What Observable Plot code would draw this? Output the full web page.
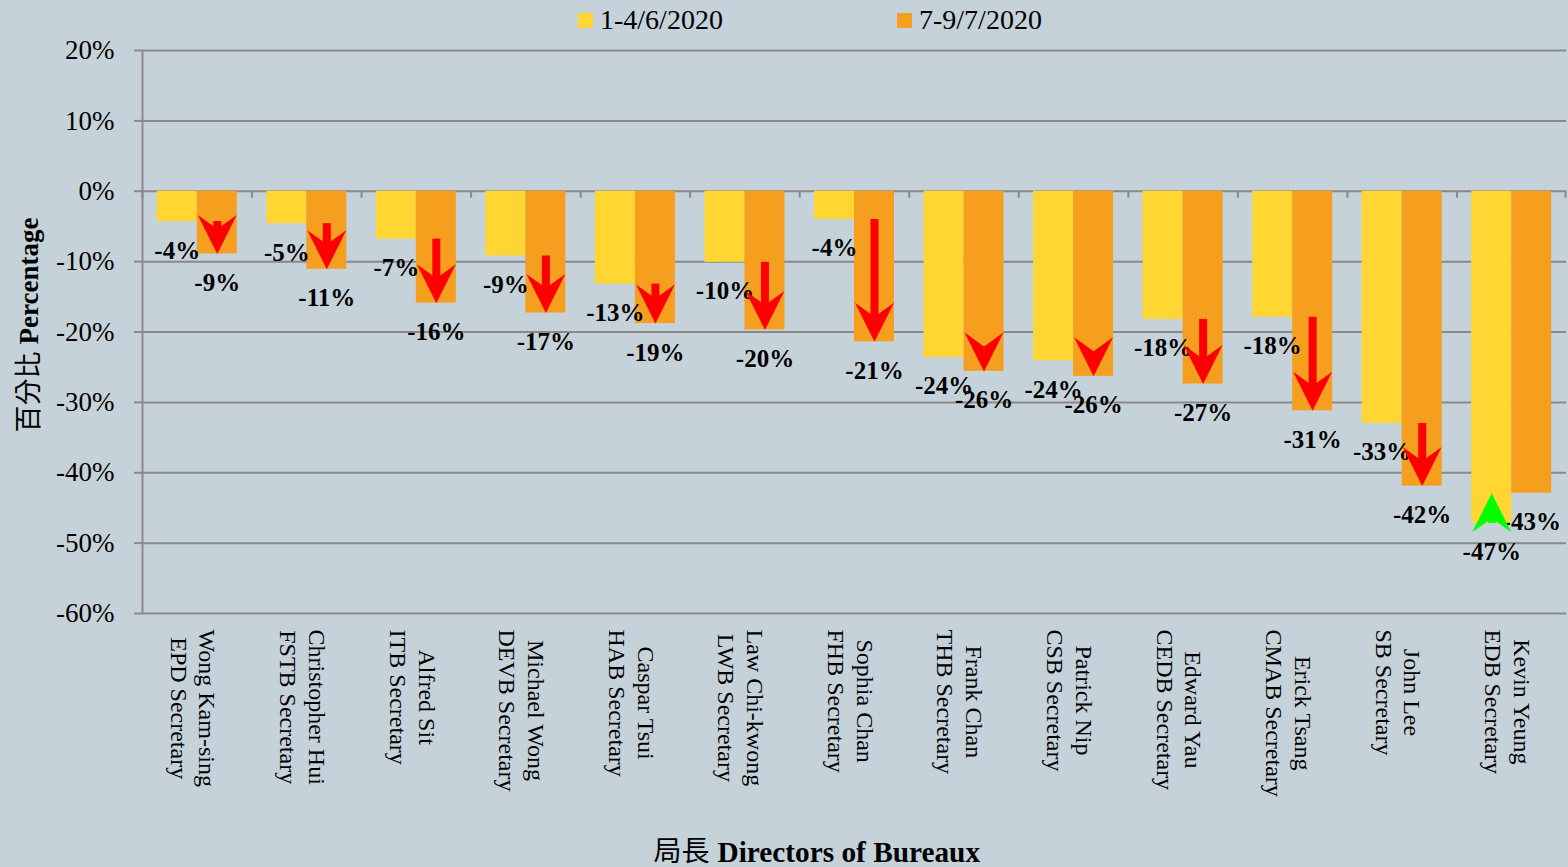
<!DOCTYPE html>
<html>
<head>
<meta charset="utf-8">
<script src="https://cdn.jsdelivr.net/npm/d3@7"></script>
<script src="https://cdn.jsdelivr.net/npm/@observablehq/plot@0.6"></script>
<style>
  html, body { margin: 0; padding: 0; background: #C6D2D9; }
  #wrap { position: relative; width: 1568px; height: 867px; overflow: hidden; background: #C6D2D9;
          font-family: "Liberation Serif", "Noto Sans CJK TC", serif; }
  #legend { position: relative; height: 30px; width: 1568px; }
  .lg-item { position: absolute; top: 5px; height: 30px; display: flex; align-items: center; font-size: 28px; color: #000;
             font-family: "Liberation Serif", serif; }
  .lg-sw { width: 15px; height: 15px; margin-right: 7px; }
  #chart svg { display: block; }
</style>
</head>
<body>
<div id="wrap">
  <div id="legend"></div>
  <div id="chart"></div>
</div>
<script>
// ---- data ----
const names = ["Wong Kam-sing", "Christopher Hui", "Alfred Sit", "Michael Wong", "Caspar Tsui", "Law Chi-kwong",
  "Sophia Chan", "Frank Chan", "Patrick Nip", "Edward Yau", "Erick Tsang", "John Lee", "Kevin Yeung"];
const posts = ["EPD Secretary", "FSTB Secretary", "ITB Secretary", "DEVB Secretary", "HAB Secretary", "LWB Secretary",
  "FHB Secretary", "THB Secretary", "CSB Secretary", "CEDB Secretary", "CMAB Secretary", "SB Secretary", "EDB Secretary"];
const seriesNames = ["1-4/6/2020", "7-9/7/2020"];
const june = [-4.3, -4.6, -6.8, -9.2, -13.2, -10.1, -4.0, -23.6, -24.1, -18.2, -17.9, -33.0, -47.2];
const july = [-8.9, -11.1, -15.9, -17.3, -18.8, -19.7, -21.4, -25.6, -26.3, -27.4, -31.2, -41.9, -42.9];
const yTicks = [20, 10, 0, -10, -20, -30, -40, -50, -60];
const yTitleZh = "百分比";
const yTitleEn = "Percentage";
const xTitleZh = "局長";
const xTitleEn = "Directors of Bureaux";

const colors = ["#FFD632", "#F69F1F"];
const gridColor = "#898989";
const serif = "'Liberation Serif', 'Noto Sans CJK TC', serif";

const rows = names.map((n, i) => ({name: n, post: posts[i], a: june[i], b: july[i]}));

// ---- layout ----
const W = 1568, H = 837, ML = 142, MR = 2, MT = 20, MB = 254;
const B = (W - ML - MR) / names.length; // band width
const BW = 40; // bar width

// legend
const legend = document.getElementById("legend");
const lgX = [578, 897];
seriesNames.forEach((s, i) => {
  const it = document.createElement("div");
  it.className = "lg-item";
  it.style.left = lgX[i] + "px";
  const sw = document.createElement("div");
  sw.className = "lg-sw";
  sw.style.background = colors[i];
  const tx = document.createElement("span");
  tx.textContent = s;
  it.append(sw, tx);
  legend.append(it);
});

// arrowheads (tip at origin)
const headDown = {draw(ctx) { ctx.moveTo(0, 0); ctx.lineTo(19.5, -39); ctx.lineTo(0, -25); ctx.lineTo(-19.5, -39); ctx.closePath(); }};
const headUp = {draw(ctx) { ctx.moveTo(0, 0); ctx.lineTo(19.5, 39); ctx.lineTo(0, 25); ctx.lineTo(-19.5, 39); ctx.closePath(); }};

const down = d => d.b < d.a;
const up = d => d.b > d.a;
const pct = v => `${Math.round(v)}%`;

const chart = Plot.plot({
  width: W, height: H,
  marginLeft: ML, marginRight: MR, marginTop: MT, marginBottom: MB,
  style: {background: "transparent", fontFamily: serif, overflow: "visible"},
  x: {type: "band", domain: names, padding: 0, round: false, axis: null},
  y: {domain: [-60, 20], axis: null},
  marks: [
    Plot.ruleY(yTicks, {stroke: gridColor, strokeWidth: 2}),
    Plot.ruleX([names[0]], {y1: -60, y2: 20, dx: -B / 2, stroke: gridColor, strokeWidth: 2}),
    Plot.ruleX(names, {x: d => d, y1: 0, y2: -1, dx: -B / 2, stroke: gridColor, strokeWidth: 2}),
    Plot.ruleX([names[names.length - 1]], {x: d => d, y1: 0, y2: -1, dx: B / 2 - 1, stroke: gridColor, strokeWidth: 2}),
    Plot.axisY({ticks: yTicks, tickSize: 8, tickPadding: 20, tickFormat: d => `${d}%`, fontSize: 27, fontFamily: serif,
      stroke: gridColor, strokeWidth: 2, fill: "#000", label: null}),
    Plot.barY(rows, {x: "name", y1: 0, y2: "a", fill: colors[0], insetLeft: B / 2 - BW, insetRight: B / 2}),
    Plot.barY(rows, {x: "name", y1: 0, y2: "b", fill: colors[1], insetLeft: B / 2, insetRight: B / 2 - BW}),
    Plot.text(rows, {x: "name", y: "a", text: d => pct(d.a), dx: -BW / 2, dy: 29, fontSize: 25, fontWeight: "bold", fontFamily: serif, fill: "#000", lineAnchor: "middle"}),
    Plot.text(rows, {x: "name", y: "b", text: d => pct(d.b), dx: BW / 2, dy: 29, fontSize: 25, fontWeight: "bold", fontFamily: serif, fill: "#000", lineAnchor: "middle"}),
    // red arrows (decrease), drawn in the second bar
    Plot.ruleX(rows, {filter: down, x: "name", y1: "a", y2: d => d.b + 3, dx: BW / 2, stroke: "#FF0000", strokeWidth: 8}),
    Plot.dot(rows, {filter: down, x: "name", y: "b", dx: BW / 2, symbol: headDown, fill: "#FF0000", stroke: null}),
    // green arrows (increase), drawn in the first bar
    Plot.ruleX(rows, {filter: up, x: "name", y1: "a", y2: d => d.b - 3, dx: -BW / 2, stroke: "#00FF00", strokeWidth: 8}),
    Plot.dot(rows, {filter: up, x: "name", y: "b", dx: -BW / 2, symbol: headUp, fill: "#00FF00", stroke: null}),
    // category labels
    Plot.text(rows, {x: "name", y: -60, text: d => `${d.name}\n${d.post}`, rotate: 90, textAnchor: "start",
      lineAnchor: "middle", lineHeight: 1.2, dx: -3, dy: 16, fontSize: 24, fontFamily: serif, fill: "#000", className: "catlab"}),
    // axis titles
    Plot.text([yTitleZh], {text: d => d, frameAnchor: "left", rotate: -90, textAnchor: "end", lineAnchor: "middle",
      dx: -113, dy: 19.5, fontSize: 27, fill: "#000"}),
    Plot.text([yTitleEn], {text: d => d, frameAnchor: "left", rotate: -90, textAnchor: "start", lineAnchor: "middle",
      dx: -113, dy: 12.5, fontSize: 27, fontWeight: "bold", fontFamily: serif, fill: "#000"}),
    Plot.text([xTitleZh], {text: d => d, frameAnchor: "bottom", textAnchor: "end", lineAnchor: "middle",
      dx: -145, dy: 239, fontSize: 28, fill: "#000"}),
    Plot.text([xTitleEn], {text: d => d, frameAnchor: "bottom", textAnchor: "start", lineAnchor: "middle",
      dx: -137, dy: 239, fontSize: 29.3, fontWeight: "bold", fontFamily: serif, fill: "#000"})
  ]
});

document.getElementById("chart").append(chart);

// center the lines of each rotated category label on each other
chart.querySelectorAll(".catlab text").forEach(t => {
  const spans = t.querySelectorAll("tspan");
  if (!spans.length) return;
  let max = 0;
  spans.forEach(s => { max = Math.max(max, s.getComputedTextLength()); });
  t.setAttribute("text-anchor", "middle");
  const tr = t.getAttribute("transform") || "";
  t.setAttribute("transform", `${tr} translate(${max / 2},0)`);
});
</script>
</body>
</html>
